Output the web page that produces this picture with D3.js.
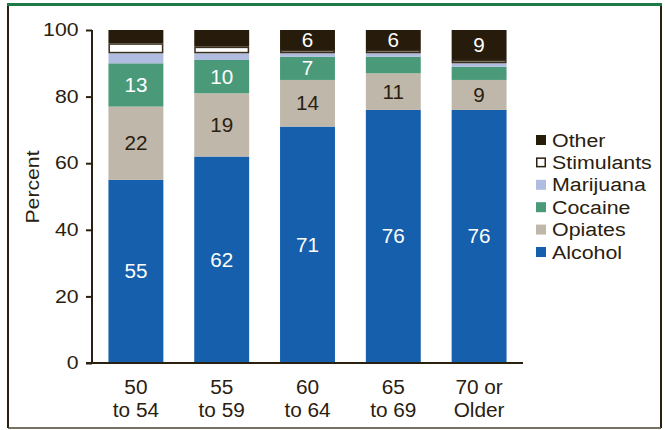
<!DOCTYPE html>
<html>
<head>
<meta charset="utf-8">
<script src="https://cdn.jsdelivr.net/npm/d3@7"></script>
<style>
  html, body { margin: 0; padding: 0; background: #fff; }
  svg { display: block; font-family: "Liberation Sans", Arial, Helvetica, sans-serif; }
</style>
</head>
<body>
<svg id="chart" width="665" height="430"></svg>
<script>
// Age groups (two-line labels)
const categories = ["50|to 54", "55|to 59", "60|to 64", "65|to 69", "70 or|Older"];

// Primary substance shares, percent of admissions per age group
const alcohol    = [55, 62, 71, 76, 76];
const opiates    = [22, 19, 14, 11, 9];
const cocaine    = [13, 10, 7, 5, 4];
const marijuana  = [3, 2, 1, 1, 1];
const stimulants = [3, 2, 1, 1, 1];
const other      = [4, 5, 6, 6, 9];

// Which segments carry printed values (null = unlabeled)
const alcoholLabels = [55, 62, 71, 76, 76];
const opiateLabels  = [22, 19, 14, 11, 9];
const cocaineLabels = [13, 10, 7, null, null];
const otherLabels   = [null, null, 6, 6, 9];

const yTicks = [0, 20, 40, 60, 80, 100];

const seriesNames = ["Alcohol", "Opiates", "Cocaine", "Marijuana", "Stimulants", "Other"];
const seriesValues = [alcohol, opiates, cocaine, marijuana, stimulants, other];
const seriesLabels = [alcoholLabels, opiateLabels, cocaineLabels, null, null, otherLabels];
const colors = {
  Alcohol: "#155fac",
  Opiates: "#bfb7a9",
  Cocaine: "#4a9a79",
  Marijuana: "#b1bde0",
  Stimulants: "#ffffff",
  Other: "#271c0b"
};
const labelColors = { Alcohol: "#fff", Opiates: "#2a2010", Cocaine: "#fff", Other: "#fff" };
const ink = "#2a2010";

const svg = d3.select("#chart");

// Wide-set text: anchor at (x, y) and stretch horizontally by s
function wideText(parent, x, y, s, size, anchor) {
  return parent.append("text")
    .attr("transform", `translate(${x},${y}) scale(${s},1)`)
    .attr("text-anchor", anchor)
    .attr("font-size", size)
    .attr("fill", ink);
}

// Outer frame
svg.append("line").attr("x1", 8).attr("x2", 8).attr("y1", 4).attr("y2", 428)
  .attr("stroke", ink).attr("stroke-width", 2);
svg.append("line").attr("x1", 661).attr("x2", 661).attr("y1", 4).attr("y2", 428)
  .attr("stroke", ink).attr("stroke-width", 2);
svg.append("line").attr("x1", 8).attr("x2", 661).attr("y1", 428).attr("y2", 428)
  .attr("stroke", "#4a4030").attr("stroke-width", 1.5);
svg.append("line").attr("x1", 7).attr("x2", 662).attr("y1", 4.5).attr("y2", 4.5)
  .attr("stroke", "#1c7a46").attr("stroke-width", 3);

const x = d3.scaleBand().domain(categories).range([93, 522])
  .paddingInner(0.36).paddingOuter(0.18);
const y = d3.scaleLinear().domain([0, 100]).range([363, 30]);

// Stack the series
const rows = categories.map((c, i) => {
  const r = { cat: c };
  seriesNames.forEach((s, k) => r[s] = seriesValues[k][i]);
  return r;
});
const stacked = d3.stack().keys(seriesNames)(rows);

const g = svg.append("g");
stacked.forEach((layer, k) => {
  const name = seriesNames[k];
  const isStim = name === "Stimulants";
  g.selectAll(null).data(layer).join("rect")
    .attr("x", d => x(d.data.cat) + (isStim ? 0.75 : 0))
    .attr("width", x.bandwidth() - (isStim ? 1.5 : 0))
    .attr("y", d => y(d[1]) + (isStim ? 0.75 : 0))
    .attr("height", d => Math.max(0, y(d[0]) - y(d[1]) - (isStim ? 1.5 : 0)))
    .attr("fill", colors[name])
    .attr("stroke", isStim ? "#3a2e1c" : "none")
    .attr("stroke-width", isStim ? 1.5 : 0);
});

// Value labels inside segments
stacked.forEach((layer, k) => {
  const name = seriesNames[k];
  const labels = seriesLabels[k];
  if (!labels) return;
  layer.forEach((d, i) => {
    if (labels[i] === null) return;
    wideText(g, x(d.data.cat) + x.bandwidth() / 2, (y(d[0]) + y(d[1])) / 2, 1.06, 19.5, "middle")
      .attr("dy", "0.36em")
      .attr("fill", labelColors[name])
      .text(labels[i]);
  });
});

// Y axis
const yAxis = svg.append("g").attr("transform", "translate(92,0)")
  .call(d3.axisLeft(y).tickValues(yTicks).tickSize(6).tickPadding(5));
yAxis.select(".domain").attr("stroke", ink).attr("stroke-width", 2).attr("d", "M0,30V363");
yAxis.selectAll(".tick line").attr("stroke", ink).attr("stroke-width", 2);
yAxis.selectAll(".tick text").attr("fill", ink).attr("font-size", 18)
  .attr("font-family", "Liberation Sans, Arial, sans-serif")
  .attr("x", -13.5 / 1.18)
  .attr("transform", "scale(1.18,1)");

// X axis baseline
svg.append("line").attr("x1", 86).attr("x2", 523).attr("y1", 363).attr("y2", 363)
  .attr("stroke", ink).attr("stroke-width", 2);

// Category labels
categories.forEach(c => {
  c.split("|").forEach((p, i) => {
    wideText(svg, x(c) + x.bandwidth() / 2, 394 + i * 23, 1.04, 20, "middle").text(p);
  });
});

// Y axis title
svg.append("text")
  .attr("transform", "translate(39,187) rotate(-90) scale(1.14,1)")
  .attr("text-anchor", "middle")
  .attr("font-size", 18.6)
  .attr("fill", ink)
  .text("Percent");

// Legend (top to bottom: Other ... Alcohol)
const legendOrder = seriesNames.slice().reverse();
const legend = svg.append("g").attr("transform", "translate(536,140)");
legendOrder.forEach((name, i) => {
  const row = legend.append("g").attr("transform", `translate(0,${i * 22.4})`);
  const isStim = name === "Stimulants";
  row.append("rect")
    .attr("x", isStim ? 0.75 : 0).attr("y", isStim ? -4.25 : -5)
    .attr("width", isStim ? 8.5 : 10).attr("height", isStim ? 8.5 : 10)
    .attr("fill", colors[name])
    .attr("stroke", isStim ? "#2a2010" : "none")
    .attr("stroke-width", isStim ? 1.5 : 0);
  wideText(row, 16, 0, 1.15, 18.6, "start")
    .attr("dy", "0.36em")
    .text(name);
});
</script>
</body>
</html>
